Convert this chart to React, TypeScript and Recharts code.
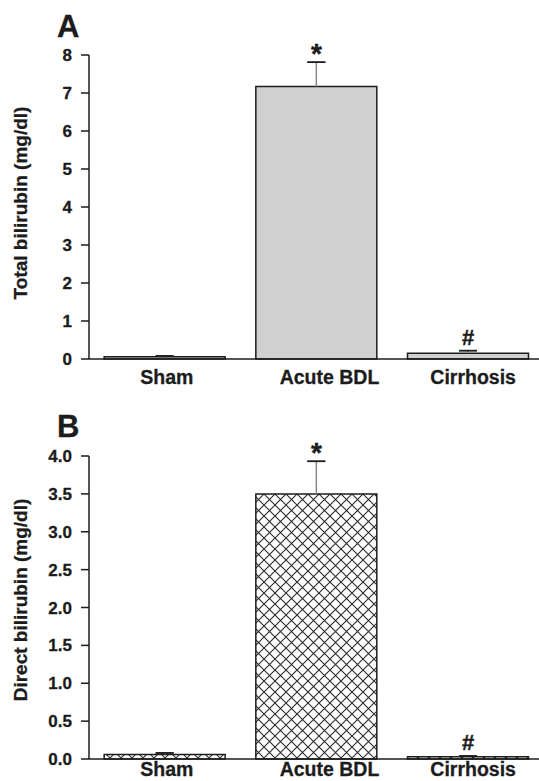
import { BarChart, Bar, XAxis, YAxis, ErrorBar, LabelList } from 'recharts';

const GROUPS = ['Sham', 'Acute BDL', 'Cirrhosis'];
const TOTAL_MEAN = [0.06, 7.17, 0.15];
const TOTAL_SEM = [0.02, 0.64, 0.07];
const DIRECT_MEAN = [0.06, 3.5, 0.03];
const DIRECT_SEM = [0.02, 0.43, 0.01];
const MARKS = ['', '*', '#'];
const TICKS_A = [0, 1, 2, 3, 4, 5, 6, 7, 8];
const TICKS_B = [0, 0.5, 1, 1.5, 2, 2.5, 3, 3.5, 4];

const FONT = '"Liberation Sans", Arial, Helvetica, sans-serif';
const INK = '#1c1c1c';

const makeRows = (mean: number[], sem: number[]) =>
  GROUPS.map((name, i) => ({
    name,
    mean: mean[i],
    sem: sem[i],
    line: [0, sem[i]],
    cap: [-sem[i], sem[i]],
    mark: MARKS[i],
  }));

const rowsA = makeRows(TOTAL_MEAN, TOTAL_SEM);
const rowsB = makeRows(DIRECT_MEAN, DIRECT_SEM);

// significance marks sit just above the error cap
const markContent = (rows: any[]) => (props: any) => {
  const { x, y, width, height, index, value } = props;
  if (!value) return null;
  const r = rows[index];
  const top = y - (height / r.mean) * r.sem;
  const star = value === '*';
  return (
    <text
      x={x + width / 2}
      y={star ? top + 1 : top - 6}
      textAnchor="middle"
      fontFamily={FONT}
      fontWeight="bold"
      fontSize={star ? 28 : 22}
      fill={INK}
      stroke={INK}
      strokeWidth={0.4}
    >
      {value}
    </text>
  );
};

const XTick = (props: any) => {
  const { x, y, payload, index } = props;
  const shift = [2, 13, 5];
  return (
    <text
      x={x + (shift[index] ?? 0)}
      y={y}
      dy="0.71em"
      textAnchor="middle"
      fontFamily={FONT}
      fontWeight="bold"
      fontSize={19.5}
      fill={INK}
      stroke={INK}
      strokeWidth={0.3}
    >
      {payload.value}
    </text>
  );
};

const yTickStyle = {
  fontFamily: FONT,
  fontWeight: 'bold',
  fontSize: 17,
  fill: INK,
  stroke: INK,
  strokeWidth: 0.3,
};

const Panel = (props: {
  rows: any[];
  ticks: number[];
  height: number;
  top: number;
  xHeight: number;
  xMargin: number;
  fill: string;
  fmt: (v: number) => string;
}) => (
  <BarChart
    width={544}
    height={props.height}
    data={props.rows}
    margin={{ top: props.top, right: 0, left: 0, bottom: 0 }}
    barCategoryGap="10%"
  >
    <defs>
      <pattern id="xhatch" patternUnits="userSpaceOnUse" width={11} height={11}>
        <rect width={11} height={11} fill="#ffffff" />
        <path d="M0,0 L11,11 M11,0 L0,11" stroke="#2a2a2a" strokeWidth={1.1} />
      </pattern>
    </defs>
    <YAxis
      width={89}
      domain={[props.ticks[0], props.ticks[props.ticks.length - 1]]}
      ticks={props.ticks}
      interval={0}
      tickSize={8}
      tickMargin={9}
      tickFormatter={props.fmt}
      tick={yTickStyle}
      axisLine={{ stroke: INK, strokeWidth: 1.5 }}
      tickLine={{ stroke: INK, strokeWidth: 1.5 }}
    />
    <XAxis
      dataKey="name"
      height={props.xHeight}
      tickLine={false}
      tickSize={0}
      tickMargin={props.xMargin}
      tick={<XTick />}
      axisLine={{ stroke: INK, strokeWidth: 1.5 }}
    />
    <Bar
      dataKey="mean"
      fill={props.fill}
      stroke={INK}
      strokeWidth={1.5}
      isAnimationActive={false}
    >
      <ErrorBar dataKey="line" width={0} stroke="#888" strokeWidth={1.5} />
      <ErrorBar dataKey="cap" width={9} stroke={INK} strokeWidth={1.5} />
      <LabelList dataKey="mark" content={markContent(props.rows)} />
    </Bar>
  </BarChart>
);

export default function App() {
  return (
    <div
      style={{
        position: 'absolute',
        left: 0,
        top: 0,
        width: 539,
        height: 781,
        overflow: 'hidden',
        background: '#fff',
      }}
    >
      <div style={{ position: 'absolute', left: 0, top: 0 }}>
        <Panel
          rows={rowsA}
          ticks={TICKS_A}
          height={395}
          top={55}
          xHeight={36}
          xMargin={11}
          fill="#d0d0d0"
          fmt={(v) => String(v)}
        />
      </div>
      <div style={{ position: 'absolute', left: 0, top: 395 }}>
        <Panel
          rows={rowsB}
          ticks={TICKS_B}
          height={386}
          top={61}
          xHeight={22}
          xMargin={3}
          fill="url(#xhatch)"
          fmt={(v) => v.toFixed(1)}
        />
      </div>
      <svg
        width={539}
        height={781}
        style={{ position: 'absolute', left: 0, top: 0, pointerEvents: 'none' }}
      >
        <g fontFamily={FONT} fontWeight="bold" fill={INK} stroke={INK} strokeWidth={0.3}>
          <text x={57} y={37} fontSize={31}>A</text>
          <text x={57} y={437} fontSize={31}>B</text>
          <text x={27} y={203} fontSize={19} textAnchor="middle" transform="rotate(-90 27 203)">
            Total bilirubin (mg/dl)
          </text>
          <text x={27} y={600} fontSize={19} textAnchor="middle" transform="rotate(-90 27 600)">
            Direct bilirubin (mg/dl)
          </text>
        </g>
      </svg>
    </div>
  );
}
